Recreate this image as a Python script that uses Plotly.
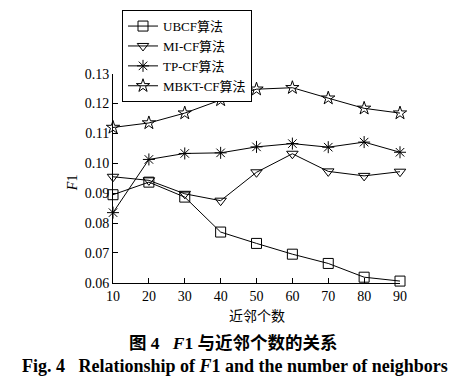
import plotly.graph_objects as go

neighbors = [10, 20, 30, 40, 50, 60, 70, 80, 90]
ubcf = [0.0895, 0.0937, 0.0887, 0.0770, 0.0732, 0.0696, 0.0665, 0.0619, 0.0606]
micf = [0.0955, 0.0943, 0.0898, 0.0875, 0.0970, 0.1032, 0.0973, 0.0958, 0.0972]
tpcf = [0.0835, 0.1013, 0.1033, 0.1035, 0.1055, 0.1066, 0.1054, 0.1071, 0.1037]
mbkt = [0.1120, 0.1135, 0.1168, 0.1212, 0.1248, 0.1253, 0.1218, 0.1184, 0.1168]

names = ["UBCF算法", "MI-CF算法", "TP-CF算法", "MBKT-CF算法"]
symbols = ["square-open", "triangle-down-open", "asterisk-open", "star-open"]
series = [ubcf, micf, tpcf, mbkt]
y_ticks = [0.06, 0.07, 0.08, 0.09, 0.10, 0.11, 0.12, 0.13]
y_tick_text = ["0.06", "0.07", "0.08", "0.09", "0.10", "0.11", "0.12", "0.13"]

FONT = "Liberation Serif, Times New Roman, Noto Sans CJK SC, serif"

W, H = 457, 383
ML, MR, MT, MB = 50, 10, 0, 70
PW, PH = W - ML - MR, H - MT - MB
OFF = 8  # page body offset


def px(x):
    return (x - OFF - ML) / PW


def py(y):
    return (H - MB - (y - OFF)) / PH


fig = go.Figure()
for name, vals, sym in zip(names, series, symbols):
    fig.add_trace(go.Scatter(
        x=neighbors, y=vals, name=name, mode="lines+markers",
        line=dict(color="black", width=1),
        marker=dict(symbol=sym, size=10, color="black",
                    line=dict(color="black", width=1)),
        cliponaxis=False,
    ))

fig.update_layout(
    width=W, height=H,
    margin=dict(l=ML, r=MR, t=MT, b=MB),
    paper_bgcolor="white", plot_bgcolor="white",
    font=dict(family=FONT, size=14, color="black"),
    showlegend=True,
    legend=dict(x=px(122), y=py(3), xanchor="left", yanchor="top",
                bgcolor="white", bordercolor="black", borderwidth=1,
                font=dict(family=FONT, size=13), tracegroupgap=0,
                itemwidth=30),
    xaxis=dict(domain=[px(113), px(400)], range=[10, 90], tickvals=neighbors,
               showgrid=False, zeroline=False, showline=True,
               linecolor="black", linewidth=1,
               ticks="inside", ticklen=5, tickcolor="black",
               tickfont=dict(family=FONT, size=14)),
    yaxis=dict(domain=[py(282), py(68)], range=[0.06, 0.13],
               tickvals=y_ticks, ticktext=y_tick_text,
               showgrid=False, zeroline=False, showline=True,
               linecolor="black", linewidth=1,
               ticks="inside", ticklen=5, tickcolor="black",
               tickfont=dict(family=FONT, size=14)),
)


def label(text, x, y, size, angle=0):
    fig.add_annotation(text=text, xref="paper", yref="paper",
                       x=px(x), y=py(y), xanchor="center", yanchor="middle",
                       textangle=angle, showarrow=False,
                       font=dict(family=FONT, size=size))


label("<i>F</i>1", 72, 180, 14, angle=-90)
label("近邻个数", 257, 316, 14)
label("<b>图 4   <i>F</i>1 与近邻个数的关系</b>", 233, 343, 17.5)
label("<b>Fig. 4   Relationship of <i>F</i>1 and the number of neighbors</b>", 235, 367, 18)

fig.write_html("out.html")
